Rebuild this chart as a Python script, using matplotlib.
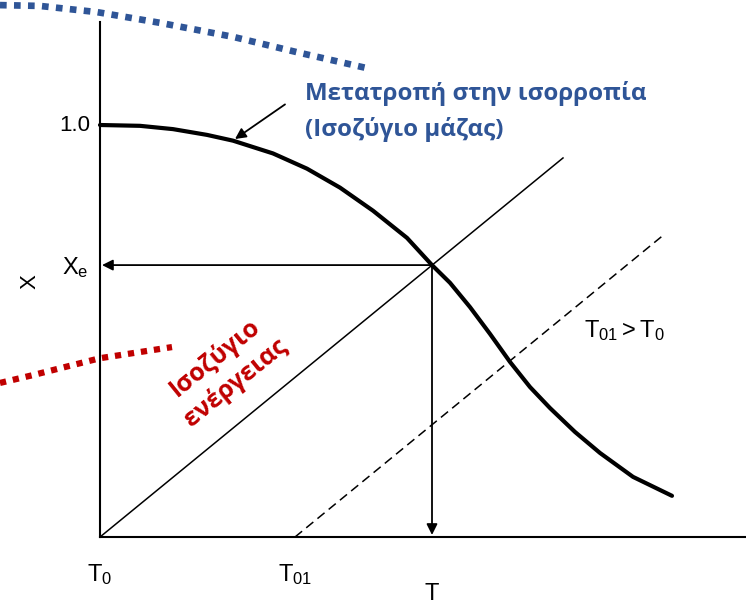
import matplotlib.pyplot as plt

plt.rcParams['font.family'] = ['Liberation Sans', 'DejaVu Sans']
plt.rcParams['mathtext.fontset'] = 'custom'
plt.rcParams['mathtext.rm'] = 'Liberation Sans'
plt.rcParams['mathtext.it'] = 'Liberation Sans'

# equilibrium conversion X vs temperature (T measured from T0, arbitrary units)
eq_T = [0.0, 0.4, 0.73, 1.07, 1.33, 1.73, 2.07, 2.40, 2.73, 3.07, 3.32,
        3.50, 3.70, 3.90, 4.10, 4.30, 4.50, 4.75, 5.00, 5.33, 5.72]
eq_X = [1.0, 0.998, 0.990, 0.976, 0.962, 0.931, 0.894, 0.848, 0.792, 0.726, 0.660,
        0.617, 0.558, 0.493, 0.425, 0.364, 0.313, 0.255, 0.204, 0.146, 0.100]

# energy balance lines (adiabatic operating lines)
op0_T = [0.0, 4.63]
op0_X = [0.0, 0.920]
op01_T = [1.95, 5.63]
op01_X = [0.0, 0.732]

# equilibrium point
Te, Xe = 3.32, 0.66

# decorative dotted curves
blue_T = [-1.0, -0.6, -0.03, 0.6, 1.33, 2.0, 2.67]
blue_X = [1.291, 1.289, 1.274, 1.248, 1.214, 1.175, 1.138]
red_T = [-1.0, -0.67, 0.0, 0.72]
red_X = [0.374, 0.393, 0.434, 0.461]

fig = plt.figure(figsize=(7.46, 6.05), dpi=100)
ax = fig.add_axes([0, 0, 1, 1])
ax.set_xlim(-1.0, 6.46)
ax.set_ylim(-0.165, 1.3034)
ax.axis('off')

# axes
ax.plot([0, 0], [0, 1.25], color='black', lw=1.5)
ax.plot([0, 6.46], [0, 0], color='black', lw=1.5)

# equilibrium curve
ax.plot(eq_T, eq_X, color='black', lw=3, solid_capstyle='round', solid_joinstyle='round')

# operating lines
ax.plot(op0_T, op0_X, color='black', lw=1.1)
ax.plot(op01_T, op01_X, color='black', lw=1.1, linestyle=(0, (6, 3.5)))

# arrows from the equilibrium point
arr = dict(arrowstyle='-|>', color='black', lw=1.3, mutation_scale=16, shrinkA=0, shrinkB=0)
ax.annotate('', xy=(0.02, Xe), xytext=(Te, Xe), arrowprops=arr)
ax.annotate('', xy=(Te, 0.005), xytext=(Te, Xe), arrowprops=arr)
ax.annotate('', xy=(1.35, 0.966), xytext=(1.85, 1.05), arrowprops=arr)

# tick at 1.0
ax.plot([0, 0.04], [1.0, 1.0], color='black', lw=1.5)

# labels
ax.text(-0.1, 1.0, '1.0', fontsize=16, ha='right', va='center')
ax.text(-0.25, 0.655, r'$\mathrm{X_e}$', fontsize=17, ha='center', va='center')
ax.text(-0.7, 0.62, 'X', fontsize=16, ha='center', va='center', rotation=90)
ax.text(0.0, -0.09, r'$\mathrm{T_0}$', fontsize=17, ha='center', va='center')
ax.text(1.95, -0.09, r'$\mathrm{T_{01}}$', fontsize=17, ha='center', va='center')
ax.text(3.32, -0.138, 'T', fontsize=17, ha='center', va='center')
ax.text(5.24, 0.5, r'$\mathrm{T_{01} > T_0}$', fontsize=17, ha='center', va='center')

# dotted guide curves
ax.plot(blue_T, blue_X, color='#2F5597', lw=4.8, linestyle=(0, (1, 1.1)))
ax.plot(red_T, red_X, color='#C00000', lw=4.5, linestyle=(0, (1, 1.1)))

ax.text(2.05, 1.033, 'Μετατροπή στην ισορροπία\n(Ισοζύγιο μάζας)', fontsize=17.4,
        fontweight='bold', color='#2F5597', family=['Open Sans', 'DejaVu Sans'],
        ha='left', va='center', linespacing=1.6)
ax.text(1.25, 0.405, 'Ισοζύγιο\nενέργειας', fontsize=18, fontweight='bold',
        color='#C00000', family=['Open Sans', 'DejaVu Sans'], rotation=39,
        ha='center', va='center', linespacing=1.3, rotation_mode='anchor')

fig.savefig('out.png', dpi=100)
